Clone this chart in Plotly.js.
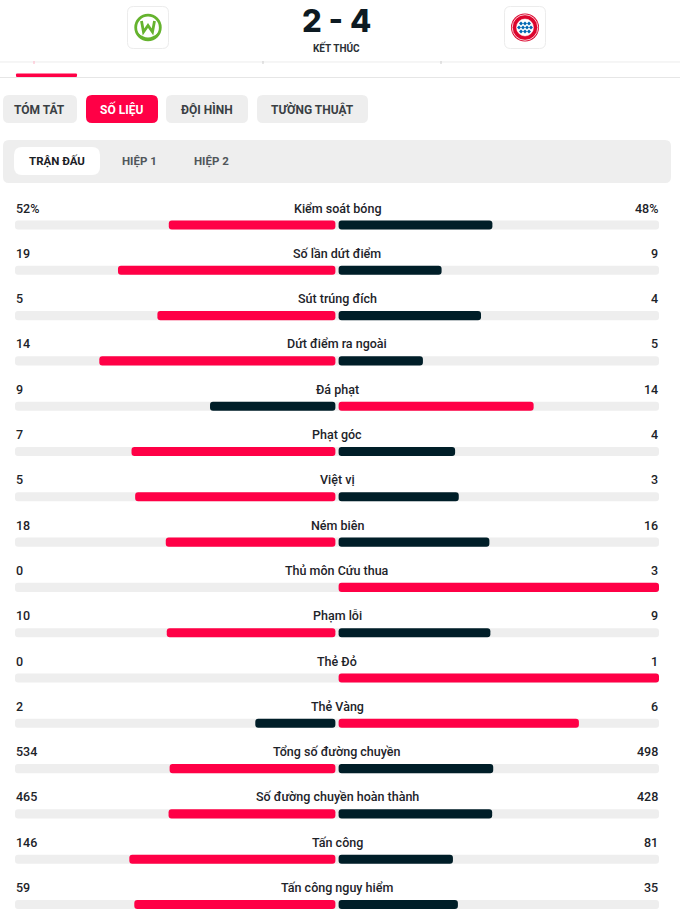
<!DOCTYPE html>
<html><head><meta charset="utf-8">
<script src="https://cdn.plot.ly/plotly-3.0.1.min.js"></script>
<style>html,body{margin:0;padding:0;background:#fff;overflow:hidden}#chart{width:680px;height:919px}</style>
</head><body><div id="chart"></div>
<script>
// ---- data ----
const statLabels = ['Kiểm soát bóng','Số lần dứt điểm','Sút trúng đích','Dứt điểm ra ngoài','Đá phạt','Phạt góc','Việt vị','Ném biên','Thủ môn Cứu thua','Phạm lỗi','Thẻ Đỏ','Thẻ Vàng','Tổng số đường chuyền','Số đường chuyền hoàn thành','Tấn công','Tấn công nguy hiểm'];
const homeValues = [52,19,5,14,9,7,5,18,0,10,0,2,534,465,146,59];
const awayValues = [48,9,4,5,14,4,3,16,3,9,1,6,498,428,81,35];
const valueSuffix = ['%','','','','','','','','','','','','','','',''];
const scoreText = '2 - 4';
const statusText = 'KẾT THÚC';
const mainTabs = ['TÓM TẮT','SỐ LIỆU','ĐỘI HÌNH','TƯỜNG THUẬT'];
const periodTabs = ['TRẬN ĐẤU','HIỆP 1','HIỆP 2'];

// ---- layout helpers ----
const W = 680, H = 919;
const RED = '#ff0046', DARK = '#001e28', GREY = '#eeeeee';
const X = p => +(p / W).toFixed(5);
const Y = p => +(1 - p / H).toFixed(5);
const P = (x, y) => X(x) + ',' + Y(y);
function rrect(x0, y0, x1, y1, r) {
  return 'M' + P(x0 + r, y0) + ' L' + P(x1 - r, y0) + ' Q' + P(x1, y0) + ' ' + P(x1, y0 + r) +
    ' L' + P(x1, y1 - r) + ' Q' + P(x1, y1) + ' ' + P(x1 - r, y1) +
    ' L' + P(x0 + r, y1) + ' Q' + P(x0, y1) + ' ' + P(x0, y1 - r) +
    ' L' + P(x0, y0 + r) + ' Q' + P(x0, y0) + ' ' + P(x0 + r, y0) + ' Z';
}
function pathPx(cmds) {
  return cmds.map(c => {
    if (c[0] === 'Z') return 'Z';
    let s = c[0];
    for (let k = 1; k < c.length; k += 2) s += (k > 1 ? ' ' : '') + P(c[k], c[k + 1]);
    return s;
  }).join(' ');
}
function circ(cx, cy, r, fill, lineColor, lineWidth) {
  return { type: 'circle', xref: 'paper', yref: 'paper', x0: X(cx - r), x1: X(cx + r), y0: Y(cy + r), y1: Y(cy - r),
    fillcolor: fill, line: { color: lineColor || 'rgba(0,0,0,0)', width: lineWidth || 0 } };
}

const idx = statLabels.map((_, i) => i);
const gap = 0.005;
const homeFrac = homeValues.map((v, i) => (v + awayValues[i]) ? v / (v + awayValues[i]) : 0);
const awayFrac = awayValues.map((v, i) => (v + homeValues[i]) ? v / (v + homeValues[i]) : 0);
const homeColors = homeValues.map((v, i) => v >= awayValues[i] ? RED : DARK);
const awayColors = awayValues.map((v, i) => v > homeValues[i] ? RED : DARK);
const BW = 0.2;

const traces = [
  { type: 'bar', orientation: 'h', y: idx, x: idx.map(() => 2), base: idx.map(() => -1), width: BW,
    marker: { color: GREY, cornerradius: 3 }, hoverinfo: 'skip' },
  { type: 'bar', orientation: 'h', y: idx, x: homeFrac.map(f => -f * (1 - gap)), base: idx.map(() => -gap), width: BW,
    marker: { color: homeColors, cornerradius: 3 }, hoverinfo: 'skip' },
  { type: 'bar', orientation: 'h', y: idx, x: awayFrac.map(f => f * (1 - gap)), base: idx.map(() => gap), width: BW,
    marker: { color: awayColors, cornerradius: 3 }, hoverinfo: 'skip' }
];

const fontBase = { family: 'Roboto, "Noto Sans", sans-serif', color: '#1d2329' };
const annotations = [];
idx.forEach(i => {
  annotations.push({ x: 0, y: i, xref: 'x', yref: 'y', text: statLabels[i], showarrow: false, xanchor: 'center', yanchor: 'middle', yshift: 17,
    font: Object.assign({}, fontBase, { size: 12.5, weight: 500 }) });
  annotations.push({ x: -1, y: i, xref: 'x', yref: 'y', text: homeValues[i] + valueSuffix[i], showarrow: false, xanchor: 'left', yanchor: 'middle', yshift: 17, xshift: -1,
    font: Object.assign({}, fontBase, { size: 12.5, weight: 500 }) });
  annotations.push({ x: 1, y: i, xref: 'x', yref: 'y', text: awayValues[i] + valueSuffix[i], showarrow: false, xanchor: 'right', yanchor: 'middle', yshift: 17, xshift: 1,
    font: Object.assign({}, fontBase, { size: 12.5, weight: 500 }) });
});

// header texts
annotations.push({ xref: 'paper', yref: 'paper', x: X(336), y: Y(21), text: scoreText, showarrow: false, xanchor: 'center', yanchor: 'middle', borderpad: 0,
  font: { family: 'Inter, Roboto, sans-serif', size: 31, weight: 800, color: '#0d1a22' } });
annotations.push({ xref: 'paper', yref: 'paper', x: X(336), y: Y(47.5), text: statusText, showarrow: false, xanchor: 'center', yanchor: 'middle',
  font: { family: 'Roboto, sans-serif', size: 10, weight: 700, color: '#2a3035' } });

const mainTabBoxes = [[3, 77], [86, 158], [166, 248], [257, 368]];
const shapes = [];
mainTabs.forEach((t, k) => {
  const [a, b] = mainTabBoxes[k];
  const active = k === 1;
  shapes.push({ type: 'path', xref: 'paper', yref: 'paper', path: rrect(a, 95, b, 123, 6), fillcolor: active ? RED : GREY, line: { width: 0 } });
  annotations.push({ xref: 'paper', yref: 'paper', x: X((a + b) / 2), y: Y(109), text: t, showarrow: false, xanchor: 'center', yanchor: 'middle',
    font: { family: 'Roboto, sans-serif', size: 12, weight: 700, color: active ? '#ffffff' : '#3a3f44' } });
});

// period selector panel
shapes.push({ type: 'path', xref: 'paper', yref: 'paper', path: rrect(3, 140, 671, 183, 6), fillcolor: GREY, line: { width: 0 } });
shapes.push({ type: 'path', xref: 'paper', yref: 'paper', path: rrect(14, 147, 100, 175, 8), fillcolor: '#ffffff', line: { width: 0 } });
const periodCenters = [57, 139.5, 212];
periodTabs.forEach((t, k) => {
  annotations.push({ xref: 'paper', yref: 'paper', x: X(periodCenters[k]), y: Y(161.5), text: t, showarrow: false, xanchor: 'center', yanchor: 'middle',
    font: { family: 'Roboto, sans-serif', size: 11.5, weight: 700, color: k === 0 ? '#1b2025' : '#50565b' } });
});

// separators
shapes.push({ type: 'line', xref: 'paper', yref: 'paper', x0: 0, x1: 1, y0: Y(62), y1: Y(62), line: { color: '#ececec', width: 1 } });
shapes.push({ type: 'line', xref: 'paper', yref: 'paper', x0: 0, x1: 1, y0: Y(77.5), y1: Y(77.5), line: { color: '#e6e6e6', width: 1.2 } });
shapes.push({ type: 'path', xref: 'paper', yref: 'paper', path: rrect(16, 73.5, 77, 77, 1), fillcolor: RED, line: { width: 0 } });
shapes.push({ type: 'line', xref: 'paper', yref: 'paper', x0: X(34), x1: X(34), y0: Y(61), y1: Y(64), line: { color: '#ffb3c6', width: 1 } });
shapes.push({ type: 'line', xref: 'paper', yref: 'paper', x0: X(263), x1: X(263), y0: Y(61), y1: Y(64), line: { color: '#cccccc', width: 1 } });
shapes.push({ type: 'line', xref: 'paper', yref: 'paper', x0: X(441), x1: X(441), y0: Y(61), y1: Y(64), line: { color: '#cccccc', width: 1 } });

// logo boxes
shapes.push({ type: 'path', xref: 'paper', yref: 'paper', path: rrect(127.5, 6.5, 168.5, 48.5, 6), fillcolor: '#ffffff', line: { color: '#ececec', width: 1 } });
shapes.push({ type: 'path', xref: 'paper', yref: 'paper', path: rrect(504.5, 6.5, 545.5, 48.5, 6), fillcolor: '#ffffff', line: { color: '#ececec', width: 1 } });

// Wolfsburg crest (drawn)
const GREEN = '#65b32e';
shapes.push(circ(148, 27.5, 12.3, '#ffffff', GREEN, 2.8));
shapes.push({ type: 'path', xref: 'paper', yref: 'paper', line: { color: GREEN, width: 2.8 }, fillcolor: 'rgba(0,0,0,0)',
  path: pathPx([['M', 141.5, 21], ['L', 143.5, 32], ['L', 148, 25.5], ['L', 152.5, 32], ['L', 154.5, 21]]) });
shapes.push({ type: 'path', xref: 'paper', yref: 'paper', line: { width: 0 }, fillcolor: GREEN,
  path: pathPx([['M', 138, 33], ['Q', 148, 42, 158, 33], ['L', 159, 35], ['Q', 148, 45, 137, 35], ['Z']]) });

// Bayern crest (drawn)
shapes.push(circ(525, 27.5, 14, '#dc052d'));
shapes.push(circ(525, 27.5, 12.8, 'rgba(0,0,0,0)', '#ffffff', 0.8));
shapes.push(circ(525, 27.5, 8.5, '#ffffff', '#ffffff', 0.5));
const dia = [];
[[-4, -4], [0, -4], [4, -4], [-2, 0], [2, 0], [-6, 0], [6, 0], [-4, 4], [0, 4], [4, 4], [-2, -8], [2, -8], [-2, 8], [2, 8]].forEach(([dx, dy]) => {
  const cx = 525 + dx, cy = 27.5 + dy;
  if (Math.hypot(dx, dy) > 7.5) return;
  dia.push(['M', cx, cy - 2], ['L', cx + 2, cy], ['L', cx, cy + 2], ['L', cx - 2, cy], ['Z']);
});
shapes.push({ type: 'path', xref: 'paper', yref: 'paper', line: { width: 0 }, fillcolor: '#0066b2', path: pathPx(dia) });

const layout = {
  width: W, height: H,
  margin: { l: 0, r: 0, t: 0, b: 0, pad: 0 },
  paper_bgcolor: '#ffffff', plot_bgcolor: '#ffffff',
  barmode: 'overlay', showlegend: false, hovermode: false,
  xaxis: { range: [-337 / 322, (W - 337) / 322], showgrid: false, zeroline: false, showticklabels: false, fixedrange: true, showline: false },
  yaxis: { range: [15.320, -4.967], showgrid: false, zeroline: false, showticklabels: false, fixedrange: true, showline: false },
  shapes: shapes,
  annotations: annotations
};

Plotly.newPlot('chart', traces, layout, { displayModeBar: false, staticPlot: true });
</script>
</body></html>
